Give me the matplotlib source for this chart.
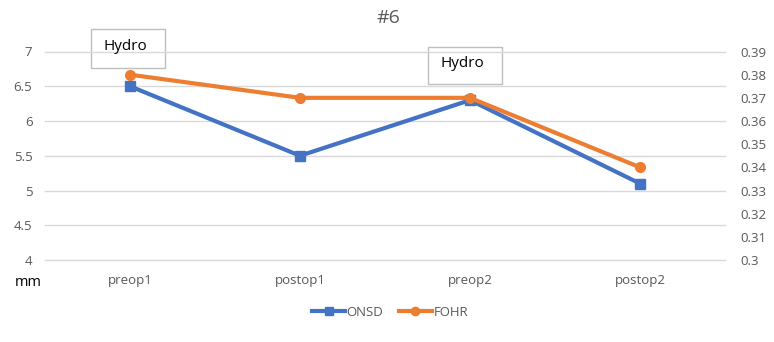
import matplotlib
matplotlib.use("Agg")
import matplotlib.pyplot as plt
from matplotlib.ticker import FixedLocator, FuncFormatter
from matplotlib.lines import Line2D

categories = ["preop1", "postop1", "preop2", "postop2"]
onsd = [6.5, 5.5, 6.3, 5.1]
fohr = [0.38, 0.37, 0.37, 0.34]
left_ticks = [4, 4.5, 5, 5.5, 6, 6.5, 7]
right_ticks = [0.30, 0.31, 0.32, 0.33, 0.34, 0.35, 0.36, 0.37, 0.38, 0.39]

plt.rcParams['font.family'] = ['Open Sans', 'DejaVu Sans']
BLUE = "#4472C4"
ORANGE = "#ED7D31"
GRAY = "#595959"

fig = plt.figure(figsize=(7.74, 3.42), dpi=100)
W, H = 774, 342
ax = fig.add_axes([45 / W, 1 - 260 / H, 680 / W, (260 - 51.5) / H])
ax2 = ax.twinx()

x = list(range(len(categories)))
ax.plot(x, onsd, color=BLUE, lw=3, marker="s", ms=7, zorder=3)
ax2.plot(x, fohr, color=ORANGE, lw=3, marker="o", ms=7, zorder=3)

ax.set_xlim(-0.5, 3.5)
ax.set_ylim(4, 7)
ax2.set_ylim(0.30, 0.39)
ax.yaxis.set_major_locator(FixedLocator(left_ticks))
ax2.yaxis.set_major_locator(FixedLocator(right_ticks))
ax.yaxis.set_major_formatter(FuncFormatter(lambda v, p: f"{v:g}"))
ax2.yaxis.set_major_formatter(FuncFormatter(lambda v, p: f"{v:g}"))
ax.set_xticks(x)
ax.set_xticklabels(categories)

for a in (ax, ax2):
    for s in a.spines.values():
        s.set_visible(False)
    a.tick_params(length=0, labelsize=9.5, labelcolor=GRAY)
ax.tick_params(axis="y", pad=9)
ax2.tick_params(axis="y", pad=11)
ax.tick_params(axis="x", pad=10)
ax.grid(axis="y", color="#D9D9D9", lw=1)
for gl in ax.get_ygridlines():
    gl.set_clip_on(False)
ax.set_axisbelow(True)
ax.patch.set_visible(False)
ax2.set_zorder(ax.get_zorder() + 1)
ax2.patch.set_visible(False)

fig.text(388 / W, 1 - 18 / H, "#6", ha="center", va="center", fontsize=14, color=GRAY)
fig.text(28 / W, 1 - 283 / H, "mm", ha="center", va="center", fontsize=10.5, color="black")

for (x0, x1, y0, y1) in [(91, 165, 29, 68), (428, 502, 46.5, 84)]:
    fig.text(((x0 + x1) / 2 - 3) / W, 1 - ((y0 + y1) / 2 - 1.5) / H, "Hydro", ha="center", va="center",
             fontsize=11, color="black")
    rect = plt.Rectangle((x0 / W, 1 - y1 / H), (x1 - x0) / W, (y1 - y0) / H,
                         transform=fig.transFigure, fill=True, facecolor="white",
                         edgecolor="#BFBFBF", lw=1, zorder=-1)
    fig.add_artist(rect)

handles = [Line2D([], [], color=BLUE, lw=3, marker="s", ms=6),
           Line2D([], [], color=ORANGE, lw=3, marker="o", ms=6)]
fig.legend(handles, ["ONSD", "FOHR"], loc="center", bbox_to_anchor=(390 / W, 1 - 312 / H),
           ncol=2, frameon=False, fontsize=9.5, labelcolor=GRAY, handlelength=2.5,
           handletextpad=0.1, columnspacing=1.2)

fig.savefig("out.png", dpi=100)
